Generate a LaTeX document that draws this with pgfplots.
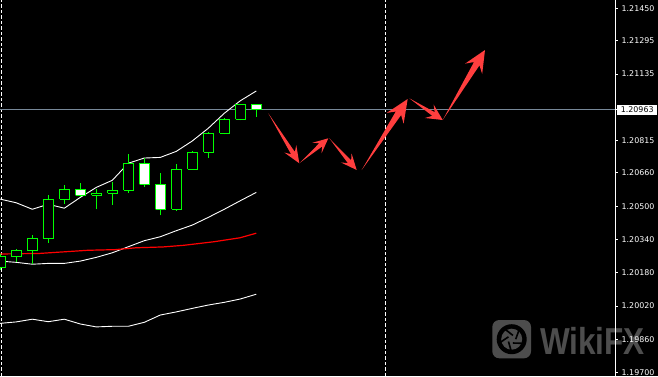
\documentclass[border=0pt]{standalone}
\usepackage{fontspec}
\setmainfont{DejaVu Sans}
\newfontfamily\wmfont{Liberation Sans}
\usepackage{pgfplots}
\pgfplotsset{compat=1.18}
\usetikzlibrary{calc}
\definecolor{candlegreen}{RGB}{0,255,0}
\definecolor{arrowred}{RGB}{255,62,62}
\definecolor{bidline}{RGB}{119,136,153}
% tail, tip, junction dist, barb dist, shaft half width, barb half width
\newcommand{\fatarrow}[6]{%
 \coordinate (fa) at (#1);
 \coordinate (fb) at (#2);
 \coordinate (fc) at ($(fb)!#3!(fa)$);
 \coordinate (fd) at ($(fb)!#4!(fa)$);
 \fill[arrowred] (fa) -- ($(fc)!#5!90:(fa)$) -- ($(fd)!#6!90:(fa)$) -- (fb) -- ($(fd)!#6!-90:(fa)$) -- ($(fc)!#5!-90:(fa)$) -- cycle;
}
\begin{document}
\begin{tikzpicture}
\fill[black] (0,0) rectangle (658pt,376pt);
% prices in points (1 point = 0.00001)
\begin{axis}[
 at={(0,0)}, anchor=south west,
 scale only axis, width=615pt, height=376pt,
 xmin=0, xmax=615, ymin=119684.2, ymax=121489.9,
 axis x line*=bottom, x axis line style={draw=none}, xtick=\empty,
 extra x ticks={1,385}, extra x tick labels={},
 extra x tick style={grid=major, major tick length=0pt, major grid style={white, line width=0.8pt, dash pattern=on 3.5pt off 2pt}},
 axis y line*=right, y axis line style={white, line width=0.8pt},
 ytick={119700,119860,120020,120180,120340,120500,120660,120815,121135,121295,121450},
 yticklabels={1.19700,1.19860,1.20020,1.20180,1.20340,1.20500,1.20660,1.20815,1.21135,1.21295,1.21450},
 tick align=outside, major tick length=2.5pt,
 ytick style={white, line width=0.8pt},
 yticklabel style={font=\fontsize{7.9}{8}\selectfont, text=white, anchor=west, inner ysep=2.15pt, inner xsep=4pt, text height=5.8pt, text depth=0pt},
 extra y ticks={120963}, extra y tick labels={1.20963},
 extra y tick style={grid=major, major grid style={bidline, line width=0.8pt}, yticklabel style={fill=white, text=black, inner xsep=3.8pt, xshift=-0.6pt}},
 unbounded coords=jump,
]
% bands
\addplot[white, line width=0.9pt] coordinates {(0,120534) (16.3,120516) (32.3,120485) (48.3,120509) (64.3,120490) (80.3,120542) (96.3,120590) (112.3,120624) (128.3,120706) (144.3,120731) (160.3,120734) (176.3,120763) (192.3,120813) (208.3,120874) (224.3,120946) (240.3,121006) (256.3,121053)};
\addplot[white, line width=0.9pt] coordinates {(0,120236) (16.3,120230) (32.3,120221) (48.3,120225) (64.3,120225) (80.3,120236) (96.3,120254) (112.3,120276) (128.3,120305) (144.3,120334) (160.3,120353) (176.3,120382) (192.3,120409) (208.3,120446) (224.3,120485) (240.3,120526) (256.3,120566)};
\addplot[white, line width=0.9pt] coordinates {(0,119937) (16.3,119944) (32.3,119957) (48.3,119945) (64.3,119957) (80.3,119934) (96.3,119920) (112.3,119923) (128.3,119923) (144.3,119942) (160.3,119977) (176.3,119992) (192.3,120009) (208.3,120025) (224.3,120038) (240.3,120054) (256.3,120077)};
\addplot[red, line width=1.2pt] coordinates {(0,120270) (40,120273) (56,120278) (88,120288) (115,120291) (136,120300) (163,120304) (184,120312) (214,120329) (240,120348) (256.3,120370)};
% wicks: (x,low) (x,high)
\addplot[candlegreen, line width=1pt] coordinates {
(0.3,120193) (0.3,120270) (0.3,nan)
(16.3,120232) (16.3,120294) (16.3,nan)
(32.3,120221) (32.3,120361) (32.3,nan)
(48.3,120324) (48.3,120553) (48.3,nan)
(64.3,120512) (64.3,120601) (64.3,nan)
(80.3,120542) (80.3,120610) (80.3,nan)
(96.3,120485) (96.3,120584) (96.3,nan)
(112.3,120507) (112.3,120617) (112.3,nan)
(128.3,120564) (128.3,120750) (128.3,nan)
(144.3,120593) (144.3,120731) (144.3,nan)
(160.3,120456) (160.3,120658) (160.3,nan)
(176.3,120478) (176.3,120702) (176.3,nan)
(192.3,120677) (192.3,120766) (192.3,nan)
(208.3,120733) (208.3,120857) (208.3,nan)
(224.3,120845) (224.3,120925) (224.3,nan)
(240.3,120912) (240.3,120989) (240.3,nan)
(256.3,120929) (256.3,120989)};
% bull bodies (open below close)
\addplot[draw=candlegreen, fill=black, line width=1pt] coordinates {
(-4.45,120205) (5.05,120205) (5.05,120258) (-4.45,120258) (-4.45,120205) (0,nan)
(11.55,120257) (21.05,120257) (21.05,120288) (11.55,120288) (11.55,120257) (0,nan)
(27.55,120286) (37.05,120286) (37.05,120345) (27.55,120345) (27.55,120286) (0,nan)
(43.55,120344) (53.05,120344) (53.05,120533) (43.55,120533) (43.55,120344) (0,nan)
(59.55,120533) (69.05,120533) (69.05,120581) (59.55,120581) (59.55,120533) (0,nan)
(91.55,120552) (101.05,120552) (101.05,120562) (91.55,120562) (91.55,120552) (0,nan)
(107.55,120562) (117.05,120562) (117.05,120576) (107.55,120576) (107.55,120562) (0,nan)
(123.55,120576) (133.05,120576) (133.05,120706) (123.55,120706) (123.55,120576) (0,nan)
(171.55,120485) (181.05,120485) (181.05,120677) (171.55,120677) (171.55,120485) (0,nan)
(187.55,120677) (197.05,120677) (197.05,120758) (187.55,120758) (187.55,120677) (0,nan)
(203.55,120758) (213.05,120758) (213.05,120850) (203.55,120850) (203.55,120758) (0,nan)
(219.55,120850) (229.05,120850) (229.05,120917) (219.55,120917) (219.55,120850) (0,nan)
(235.55,120917) (245.05,120917) (245.05,120989) (235.55,120989) (235.55,120917)};
% bear bodies (close below open)
\addplot[draw=candlegreen, fill=white, line width=1pt] coordinates {
(75.55,120552) (85.05,120552) (85.05,120581) (75.55,120581) (75.55,120552) (0,nan)
(139.55,120605) (149.05,120605) (149.05,120706) (139.55,120706) (139.55,120605) (0,nan)
(155.55,120485) (165.05,120485) (165.05,120605) (155.55,120605) (155.55,120485) (0,nan)
(251.55,120963) (261.05,120963) (261.05,120989) (251.55,120989) (251.55,120963)};
\end{axis}
% forecast arrows (annotation, picture coordinates)
\fatarrow{268.3pt,262.7pt}{299.3pt,212.7pt}{12pt}{17pt}{2.2pt}{7pt}
\fatarrow{300pt,213.3pt}{328.3pt,237.7pt}{10pt}{15pt}{2.2pt}{7pt}
\fatarrow{329.3pt,237.7pt}{356.7pt,206pt}{11pt}{16pt}{2.2pt}{7pt}
\fatarrow{361.7pt,206pt}{407.7pt,277pt}{17pt}{23pt}{3.2pt}{10pt}
\fatarrow{409.3pt,277.7pt}{442.7pt,256pt}{11pt}{16pt}{2.2pt}{8pt}
\fatarrow{442.7pt,256pt}{485pt,326pt}{16pt}{22pt}{3.2pt}{10pt}
% watermark
\fill[white, opacity=0.3, rounded corners=7pt] (492.3pt,17.7pt) rectangle (531pt,56pt);
\fill[black] (511.7pt,36.8pt) circle (15pt);
\fill[white, opacity=0.3] (511.7pt,36.8pt) circle (10.5pt);
\foreach \a in {0,72,144,216,288} {\draw[black, line width=1.6pt] ($(511.7pt,36.8pt)+(\a:4pt)$) -- ++(\a+70:9pt);}
\node[anchor=base west, inner sep=0pt, text=white, opacity=0.3, font=\wmfont\bfseries\fontsize{37.5}{37.5}\selectfont, xscale=0.84] at (540pt,22pt) {WikiFX};
\pgfresetboundingbox
\path (0,0) rectangle (658pt,376pt);
\end{tikzpicture}
\end{document}
